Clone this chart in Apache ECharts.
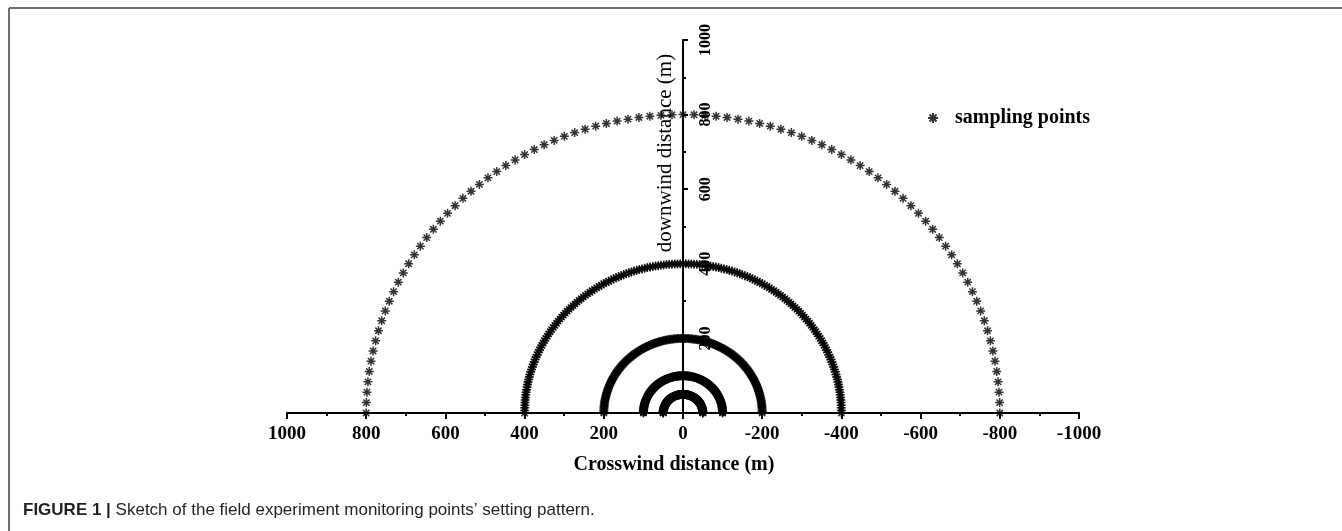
<!DOCTYPE html>
<html>
<head>
<meta charset="utf-8">
<script src="https://cdn.jsdelivr.net/npm/echarts@6/dist/echarts.min.js"></script>
<style>
html,body{margin:0;padding:0;background:#fff;}
#chart{width:1342px;height:531px;}
</style>
</head>
<body>
<div id="chart"></div>
<script>
// ---- data ----
// x tick labels (crosswind, inverted axis) and y tick labels (downwind)
const xTicks = [1000, 800, 600, 400, 200, 0, -200, -400, -600, -800, -1000];
const yTicks = [0, 200, 400, 600, 800, 1000];
// sampling rings: radius (m) of each semicircle of sampling points
const ringRadii = [800, 400, 200, 100, 50];
// angular positions (degrees) of the points on each ring
const anglesCoarse = [0,2,4,6,8,10,12,14,16,18,20,22,24,26,28,30,32,34,36,38,40,42,44,46,48,50,52,54,56,58,60,62,64,66,68,70,72,74,76,78,80,82,84,86,88,90,92,94,96,98,100,102,104,106,108,110,112,114,116,118,120,122,124,126,128,130,132,134,136,138,140,142,144,146,148,150,152,154,156,158,160,162,164,166,168,170,172,174,176,178,180];
const anglesFine = [0,1,2,3,4,5,6,7,8,9,10,11,12,13,14,15,16,17,18,19,20,21,22,23,24,25,26,27,28,29,30,31,32,33,34,35,36,37,38,39,40,41,42,43,44,45,46,47,48,49,50,51,52,53,54,55,56,57,58,59,60,61,62,63,64,65,66,67,68,69,70,71,72,73,74,75,76,77,78,79,80,81,82,83,84,85,86,87,88,89,90,91,92,93,94,95,96,97,98,99,100,101,102,103,104,105,106,107,108,109,110,111,112,113,114,115,116,117,118,119,120,121,122,123,124,125,126,127,128,129,130,131,132,133,134,135,136,137,138,139,140,141,142,143,144,145,146,147,148,149,150,151,152,153,154,155,156,157,158,159,160,161,162,163,164,165,166,167,168,169,170,171,172,173,174,175,176,177,178,179,180];
const ringAngles = [anglesCoarse, anglesFine, anglesFine, anglesFine, anglesFine];
const seriesName = 'sampling points';

// polar (radius, angle) -> (crosswind, downwind)
const points = [];
ringRadii.forEach(function (r, i) {
  ringAngles[i].forEach(function (a) {
    const t = a * Math.PI / 180;
    points.push([r * Math.cos(t), r * Math.sin(t)]);
  });
});

const starPath = 'path://M5 0 L5 10 M0 5 L10 5 M1.5 1.5 L8.5 8.5 M1.5 8.5 L8.5 1.5';
const serif = '"Liberation Serif","Times New Roman",serif';
const sans = '"Liberation Sans",Arial,sans-serif';

// plot area
const gLeft = 287, gRight = 263, gTop = 40, gBottom = 118;
const plotW = 1342 - gLeft - gRight;
const zeroX = gLeft + plotW / 2; // crosswind 0 lies at the middle of the symmetric axis

const chart = echarts.init(document.getElementById('chart'), null, {renderer: 'canvas'});
chart.setOption({
  animation: false,
  backgroundColor: '#fff',
  title: {
    left: 18, top: 497,
    text: '{b|FIGURE 1 |} Sketch of the field experiment monitoring points\u2019 setting pattern.',
    textStyle: {
      fontFamily: sans, fontSize: 17, fontWeight: 'normal', color: '#231f20',
      rich: { b: { fontFamily: sans, fontSize: 17, fontWeight: 'bold', color: '#231f20' } }
    }
  },
  legend: {
    left: 922, top: 103,
    itemWidth: 34, itemHeight: 10,
    icon: starPath,
    data: [seriesName],
    textStyle: { fontFamily: serif, fontSize: 20, fontWeight: 'bold', color: '#000' }
  },
  grid: [
    { left: gLeft, right: gRight, top: gTop, bottom: gBottom },
    { left: zeroX, width: 1, top: gTop, bottom: gBottom }
  ],
  xAxis: [{
    gridIndex: 0,
    type: 'value', min: -1000, max: 1000, interval: 200, inverse: true,
    name: 'Crosswind distance (m)', nameLocation: 'middle', nameGap: 42,
    nameTextStyle: { fontFamily: serif, fontSize: 20, fontWeight: 'bold', color: '#000', padding: [0, 18, 0, 0] },
    axisLine: { onZero: false, lineStyle: { color: '#000', width: 2 } },
    axisTick: { show: true, length: 6, lineStyle: { color: '#000', width: 2 } },
    minorTick: { show: true, splitNumber: 2, length: 3, lineStyle: { color: '#000', width: 2 } },
    splitLine: { show: false },
    axisLabel: {
      margin: 12, fontFamily: serif, fontSize: 19, fontWeight: 'bold', color: '#000',
      formatter: function (v) { return xTicks.indexOf(v) >= 0 ? String(v) : ''; }
    }
  }, {
    gridIndex: 1, type: 'value', min: 0, max: 1, show: false
  }],
  yAxis: [{
    gridIndex: 0, type: 'value', min: 0, max: 1000, interval: 200, show: false
  }, {
    gridIndex: 1,
    type: 'value', min: 0, max: 1000, interval: 200, position: 'left',
    axisLine: { onZero: false, lineStyle: { color: '#000', width: 2 } },
    axisTick: { show: true, inside: true, length: 5, lineStyle: { color: '#000', width: 2 } },
    minorTick: { show: true, splitNumber: 2, length: 3, lineStyle: { color: '#000', width: 2 } },
    splitLine: { show: false },
    axisLabel: {
      inside: true, rotate: 90, margin: 15, showMinLabel: false,
      fontFamily: serif, fontSize: 16, fontWeight: 'bold', color: '#000',
      formatter: function (v) { return yTicks.indexOf(v) >= 0 ? String(v) : ''; }
    }
  }],
  graphic: [
    { type: 'line', shape: { x1: 9, y1: 8, x2: 1342, y2: 8 }, style: { stroke: '#6e6e6e', lineWidth: 2 }, silent: true },
    { type: 'line', shape: { x1: 9, y1: 8, x2: 9, y2: 531 }, style: { stroke: '#6e6e6e', lineWidth: 2 }, silent: true },
    { type: 'text', x: 665, y: 153, rotation: Math.PI / 2,
      style: { text: 'downwind distance (m)', font: '21px ' + serif, fill: '#000',
               textAlign: 'center', textVerticalAlign: 'middle', align: 'center', verticalAlign: 'middle' } }
  ],
  series: [{
    name: seriesName,
    type: 'scatter',
    xAxisIndex: 0, yAxisIndex: 0,
    symbol: starPath,
    symbolSize: 9,
    itemStyle: { color: '#000', borderColor: '#000', borderWidth: 1.5 },
    data: points,
    z: 5
  }]
});
</script>
</body>
</html>
